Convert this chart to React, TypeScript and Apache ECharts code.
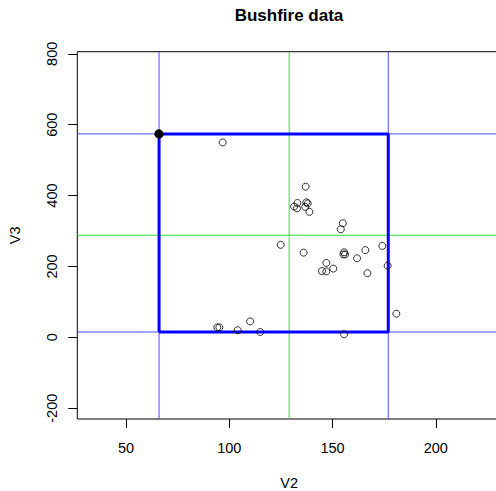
import React, { useEffect, useRef } from "react";
import * as echarts from "echarts";

const v2 = [96.8, 137.0, 131.4, 133.0, 132.8, 137.3, 138.0, 136.8, 138.8, 155.0, 154.0, 124.9, 136.0, 155.6, 156.1, 155.3, 165.9, 174.1, 161.9, 176.7, 147.0, 144.9, 147.0, 150.4, 166.9, 94.2, 95.2, 104.1, 110.1, 115.0, 155.6, 180.9];
const v3 = [550, 425, 369, 379, 364, 381, 378, 368, 354, 322, 305, 261, 239, 240, 234, 234, 246, 258, 223, 202, 210, 187, 186, 194, 181, 28, 28, 20, 45, 15, 8.5, 66.6];
// overlapping observations at the box corner
const cornerV2 = [65.6, 66.0, 66.3, 65.8, 66.2, 66.0];
const cornerV3 = [573, 575, 574, 576, 572, 574];

// box limits and centre lines
const boxV2 = [66, 177];
const boxV3 = [15, 574];
const centerV2 = 129;
const centerV3 = 288;

// axes
const xTicks = [50, 100, 150, 200];
const yTicks = [-200, 0, 200, 400, 600, 800];
const xRange = [26.4, 231.6];
const yRange = [-230.5, 806];

const FONT = "'Liberation Sans', Arial, Helvetica, sans-serif";

function vLine(x: number, color: string) {
  return {
    type: "line",
    data: [
      [x, yRange[0]],
      [x, yRange[1]],
    ],
    symbol: "none",
    showSymbol: false,
    lineStyle: { color, width: 1, opacity: 1 },
    itemStyle: { color },
    z: 2,
    silent: true,
  };
}
function hLine(y: number, color: string) {
  return {
    type: "line",
    data: [
      [xRange[0], y],
      [xRange[1], y],
    ],
    symbol: "none",
    showSymbol: false,
    lineStyle: { color, width: 1, opacity: 1 },
    itemStyle: { color },
    z: 2,
    silent: true,
  };
}

export default function App() {
  const ref = useRef<HTMLDivElement>(null);
  useEffect(() => {
    if (!ref.current) return;
    const chart = echarts.init(ref.current, null, { renderer: "svg" });
    const points = v2.map((x, i) => [x, v3[i]]);
    const corner = cornerV2.map((x, i) => [x, cornerV3[i]]);
    const rect = [
      [boxV2[0], boxV3[0]],
      [boxV2[1], boxV3[0]],
      [boxV2[1], boxV3[1]],
      [boxV2[0], boxV3[1]],
      [boxV2[0], boxV3[0]],
    ];
    const blue = "#4d4dff";
    const green = "#2ee02e";
    chart.setOption({
      animation: false,
      backgroundColor: "#ffffff",
      textStyle: { fontFamily: FONT },
      grid: {
        left: 77.3,
        top: 51.7,
        right: -5,
        bottom: 72,
        show: true,
        borderColor: "#000",
        borderWidth: 1,
        backgroundColor: "transparent",
        containLabel: false,
        outerBoundsMode: "none",
      },
      graphic: [
        {
          type: "text",
          x: 289,
          y: 15.7,
          style: {
            text: "Bushfire data",
            font: `bold 17px ${FONT}`,
            fill: "#000",
            align: "center",
            verticalAlign: "middle",
          },
        },
      ],
      xAxis: {
        type: "value",
        min: xRange[0],
        max: xRange[1],
        name: "V2",
        nameLocation: "middle",
        nameGap: 56,
        nameTextStyle: { fontSize: 14.5, color: "#000", fontFamily: FONT },
        axisLine: { show: false, onZero: false },
        axisTick: {
          show: true,
          length: 9,
          customValues: xTicks,
          lineStyle: { color: "#000", width: 1 },
        },
        axisLabel: {
          customValues: xTicks,
          fontSize: 14.5,
          color: "#000",
          margin: 21,
          fontFamily: FONT,
        },
        splitLine: { show: false },
      },
      yAxis: {
        type: "value",
        min: yRange[0],
        max: yRange[1],
        name: "V3",
        nameLocation: "middle",
        nameGap: 54.5,
        nameRotate: 90,
        nameTextStyle: { fontSize: 14.5, color: "#000", fontFamily: FONT },
        axisLine: { show: false, onZero: false },
        axisTick: {
          show: true,
          length: 9,
          customValues: yTicks,
          lineStyle: { color: "#000", width: 1 },
        },
        axisLabel: {
          customValues: yTicks,
          rotate: 90,
          fontSize: 14.5,
          color: "#000",
          margin: 18,
          fontFamily: FONT,
        },
        splitLine: { show: false },
      },
      series: [
        vLine(boxV2[0], blue),
        vLine(boxV2[1], blue),
        hLine(boxV3[0], blue),
        hLine(boxV3[1], blue),
        vLine(centerV2, green),
        hLine(centerV3, green),
        {
          type: "line",
          name: "box",
          data: rect,
          showSymbol: false,
          symbol: "none",
          lineStyle: { color: "#0000ff", width: 3, opacity: 1 },
          itemStyle: { color: "#0000ff" },
          z: 3,
          silent: true,
        },
        {
          type: "scatter",
          data: points,
          symbol: "circle",
          symbolSize: 7,
          itemStyle: { color: "transparent", borderColor: "#000", borderWidth: 1 },
          z: 4,
          silent: true,
        },
        {
          type: "scatter",
          data: corner,
          symbol: "circle",
          symbolSize: 7,
          itemStyle: { color: "#000", borderColor: "#000", borderWidth: 1 },
          z: 4,
          silent: true,
        },
      ],
    });
    return () => chart.dispose();
  }, []);
  return (
    <div
      ref={ref}
      style={{ position: "fixed", left: 0, top: 0, width: 496, height: 491, background: "#fff" }}
    />
  );
}
